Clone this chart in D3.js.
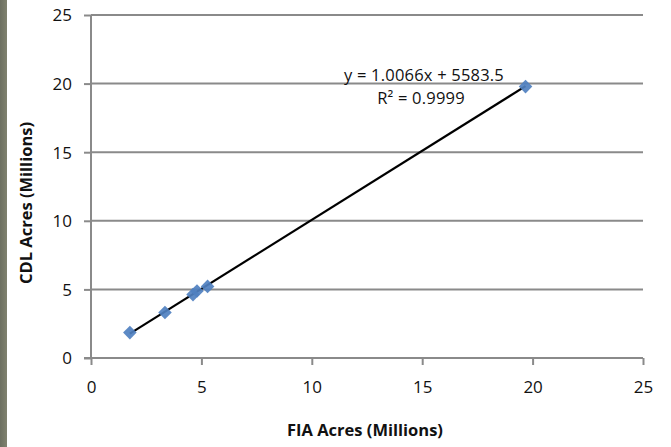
<!DOCTYPE html>
<html>
<head>
<meta charset="utf-8">
<script src="https://cdn.jsdelivr.net/npm/d3@7"></script>
<style>
  html, body { margin: 0; padding: 0; background: #fff; }
  svg { display: block; }
</style>
</head>
<body>
<svg id="chart" width="671" height="447"></svg>
<script>
// FIA vs CDL acreage, in millions of acres
const fiaAcres = [1.76, 3.35, 4.62, 4.80, 5.28, 19.68];
const cdlAcres = [1.85, 3.32, 4.62, 4.88, 5.22, 19.78];
const xTicks = [0, 5, 10, 15, 20, 25];
const yTicks = [0, 5, 10, 15, 20, 25];
// Linear fit, computed on raw acres: y = 1.0066x + 5583.5
const fitSlope = 1.0066;
const fitIntercept = 5583.5;
const fitLabel = "y = 1.0066x + 5583.5";
const r2Label = "R² = 0.9999";

const svg = d3.select("#chart");
const W = 671, H = 447;
const margin = { left: 91, right: 28, top: 15, bottom: 89 };

const x = d3.scaleLinear().domain([0, 25]).range([margin.left, W - margin.right]);
const y = d3.scaleLinear().domain([0, 25]).range([H - margin.bottom, margin.top]);

const gridColor = "#8a8a8a";
const textColor = "#111";
const font = "'Open Sans', sans-serif";

// dark frame strip on the left edge
const grad = svg.append("defs").append("linearGradient").attr("id", "strip")
  .attr("x1", 0).attr("x2", 1).attr("y1", 0).attr("y2", 0);
grad.append("stop").attr("offset", 0).attr("stop-color", "#6c6f60");
grad.append("stop").attr("offset", 1).attr("stop-color", "#80826f");
svg.append("rect").attr("x", 0).attr("y", 0).attr("width", 7).attr("height", H)
  .attr("fill", "url(#strip)");

// horizontal gridlines
svg.append("g").selectAll("line").data(yTicks.filter(d => d > 0)).join("line")
  .attr("x1", x(0)).attr("x2", x(25))
  .attr("y1", d => y(d)).attr("y2", d => y(d))
  .attr("stroke", gridColor).attr("stroke-width", 2);

// y axis
const yAxis = d3.axisLeft(y).tickValues(yTicks).tickSize(7).tickPadding(12);
const gy = svg.append("g").attr("transform", `translate(${x(0)},0)`).call(yAxis);
gy.select(".domain").attr("stroke", gridColor).attr("stroke-width", 2)
  .attr("d", `M0,${y(0)}V${y(25)}`);
gy.selectAll(".tick line").attr("stroke", gridColor).attr("stroke-width", 2);
gy.selectAll(".tick text").attr("font-family", font).attr("font-size", 17)
  .attr("fill", textColor).attr("dy", "0.35em");

// x axis
const xAxis = d3.axisBottom(x).tickValues(xTicks).tickSize(7).tickPadding(16);
const gx = svg.append("g").attr("transform", `translate(0,${y(0)})`).call(xAxis);
gx.select(".domain").attr("stroke", gridColor).attr("stroke-width", 2)
  .attr("d", `M${x(0) - 7},0H${x(25)}`);
gx.selectAll(".tick line").attr("stroke", gridColor).attr("stroke-width", 2);
gx.selectAll(".tick text").attr("font-family", font).attr("font-size", 17)
  .attr("fill", textColor);

// trend line across the data range
const xMin = d3.min(fiaAcres), xMax = d3.max(fiaAcres);
const fit = v => (fitSlope * v * 1e6 + fitIntercept) / 1e6;
svg.append("line")
  .attr("x1", x(xMin)).attr("y1", y(fit(xMin)))
  .attr("x2", x(xMax)).attr("y2", y(fit(xMax)))
  .attr("stroke", "#000").attr("stroke-width", 2.2);

// diamond markers (rotated squares)
const pts = fiaAcres.map((v, i) => [v, cdlAcres[i]]);
svg.append("g").selectAll("path").data(pts).join("path")
  .attr("d", d3.symbol().type(d3.symbolSquare).size(92))
  .attr("transform", d => `translate(${x(d[0])},${y(d[1])}) rotate(45)`)
  .attr("fill", "#4f80c0").attr("fill-opacity", 0.92);

// trendline labels
svg.append("text").attr("x", 424).attr("y", 81).attr("text-anchor", "middle")
  .attr("font-family", font).attr("font-size", 16.5).attr("fill", textColor)
  .attr("letter-spacing", 0.2)
  .text(fitLabel);
svg.append("text").attr("x", 421).attr("y", 104).attr("text-anchor", "middle")
  .attr("font-family", font).attr("font-size", 16.5).attr("fill", textColor)
  .attr("letter-spacing", 0.2)
  .text(r2Label);

// axis titles
svg.append("text").attr("x", 365).attr("y", 436).attr("text-anchor", "middle")
  .attr("font-family", font).attr("font-weight", "bold").attr("font-size", 16.5)
  .attr("fill", textColor).text("FIA Acres (Millions)");
svg.append("text").attr("transform", `translate(32,203) rotate(-90)`)
  .attr("text-anchor", "middle")
  .attr("font-family", font).attr("font-weight", "bold").attr("font-size", 16.5)
  .attr("fill", textColor).text("CDL Acres (Millions)");
</script>
</body>
</html>
